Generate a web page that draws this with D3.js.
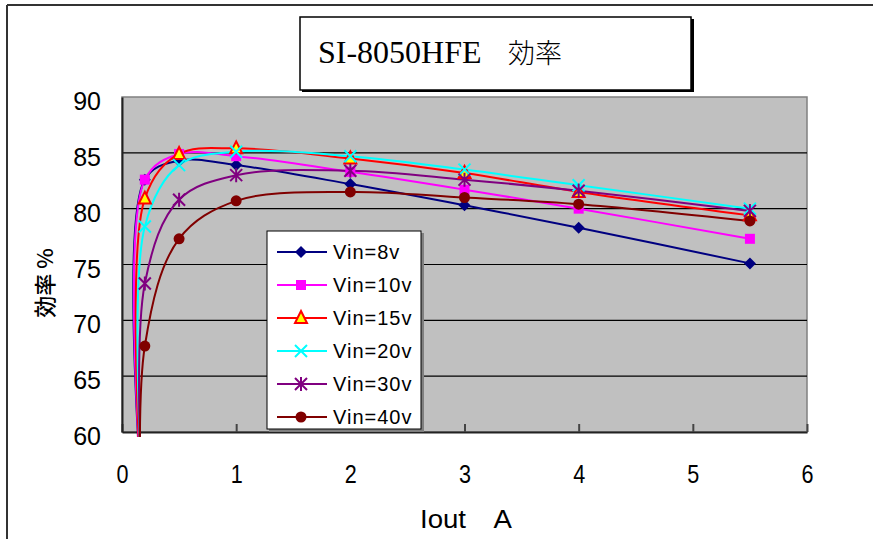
<!DOCTYPE html>
<html><head><meta charset="utf-8">
<script src="https://cdn.jsdelivr.net/npm/d3@7"></script>
<style>body{margin:0;background:#fff}svg{display:block}</style>
</head><body>
<script>
const iout = [0.19, 0.2, 0.5, 1.0, 2.0, 3.0, 4.0, 5.5];
const vin8  = [52, 82.6, 84.3, 83.9, 82.2, 80.3, 78.3, 75.1];
const vin10 = [52, 82.6, 84.9, 84.7, 83.3, 81.7, 80.0, 77.3];
const vin15 = [51, 80.9, 84.9, 85.4, 84.5, 83.2, 81.5, 79.4];
const vin20 = [52, 78.4, 83.9, 85.1, 84.7, 83.5, 82.1, 80.0];
const vin30 = [50, 73.3, 80.8, 83.0, 83.4, 82.6, 81.6, 79.8];
const vin40 = [45, 67.7, 77.3, 80.7, 81.5, 81.0, 80.4, 78.9];
const seriesNames = ["Vin=8v","Vin=10v","Vin=15v","Vin=20v","Vin=30v","Vin=40v"];
const xTicks = [0,1,2,3,4,5,6];
const yTicks = [60,65,70,75,80,85,90];
const titleText = "SI-8050HFE";
const titleCJK = "効率";
const yTitle = "効率 %";
const xTitle = "Iout　A";

const series = [
  {name: seriesNames[0], values: vin8,  color: "#000080", marker: "diamond"},
  {name: seriesNames[1], values: vin10, color: "#FF00FF", marker: "square"},
  {name: seriesNames[2], values: vin15, color: "#FF0000", marker: "triangle"},
  {name: seriesNames[3], values: vin20, color: "#00FFFF", marker: "x"},
  {name: seriesNames[4], values: vin30, color: "#800080", marker: "star"},
  {name: seriesNames[5], values: vin40, color: "#800000", marker: "circle"}
];

const W = 873, H = 539;
const svg = d3.select("body").append("svg").attr("width", W).attr("height", H);

// outer frame
svg.append("line").attr("x1",7).attr("x2",W).attr("y1",5).attr("y2",5).attr("stroke","#333").attr("stroke-width",2);
svg.append("line").attr("x1",7).attr("x2",7).attr("y1",5).attr("y2",H).attr("stroke","#333").attr("stroke-width",2);

const L = 122, R = 807, T = 97, B = 432;
const x = d3.scaleLinear().domain([0,6]).range([L,R]);
const y = d3.scaleLinear().domain([60,90]).range([B,T]);

// plot area
svg.append("rect").attr("x",L).attr("y",T).attr("width",R-L).attr("height",B-T)
  .attr("fill","#C0C0C0").attr("stroke","#808080").attr("stroke-width",1.5);

// gridlines
svg.append("g").selectAll("line").data(yTicks.filter(d=>d>60 && d<90)).join("line")
  .attr("x1",L).attr("x2",R).attr("y1",d=>y(d)).attr("y2",d=>y(d))
  .attr("stroke","#000").attr("stroke-width",1.2);

// axes
const xAxis = d3.axisBottom(x).tickValues(xTicks).tickSizeInner(-8).tickSizeOuter(0).tickFormat(d3.format("d")).tickPadding(33);
const gx = svg.append("g").attr("transform",`translate(0,${B})`).call(xAxis);
gx.select(".domain").attr("stroke","#222").attr("stroke-width",2);
gx.selectAll(".tick line").attr("stroke","#444").attr("stroke-width",2);
gx.selectAll("text").attr("font-family","'Liberation Sans',Arial,sans-serif")
  .attr("font-size",25).attr("fill","#000").attr("textLength",12).attr("lengthAdjust","spacingAndGlyphs");

const yAxis = d3.axisLeft(y).tickValues(yTicks).tickSize(0).tickPadding(21).tickFormat(d3.format("d"));
const gy = svg.append("g").attr("transform",`translate(${L},0)`).call(yAxis);
gy.select(".domain").attr("stroke","#222").attr("stroke-width",2);
gy.selectAll("text").attr("font-family","'Liberation Sans',Arial,sans-serif")
  .attr("font-size",25).attr("fill","#000").attr("dy","0.5em");

// clip
svg.append("clipPath").attr("id","clip").append("rect").attr("x",L).attr("y",T).attr("width",R-L).attr("height",B-T+5);

const line = d3.line().x((d,i)=>x(iout[i])).y(d=>y(d)).curve(d3.curveCatmullRom.alpha(0.5));

const gLines = svg.append("g").attr("clip-path","url(#clip)");
series.forEach(s=>{
  gLines.append("path").attr("d", line(s.values)).attr("fill","none")
    .attr("stroke", s.color).attr("stroke-width",2);
});

function drawMarker(g, type, color, cx, cy){
  const m = g.append("g").attr("transform",`translate(${cx},${cy})`);
  if(type==="diamond"){
    m.append("path").attr("d","M0,-6L6,0L0,6L-6,0Z").attr("fill",color);
  } else if(type==="square"){
    m.append("rect").attr("x",-5).attr("y",-5).attr("width",10).attr("height",10).attr("fill",color);
  } else if(type==="triangle"){
    m.append("path").attr("d","M0,-7L6,5L-6,5Z").attr("fill","#FFFF00").attr("stroke",color).attr("stroke-width",2);
  } else if(type==="x"){
    m.append("path").attr("d","M-6,-6L6,6M-6,6L6,-6").attr("stroke",color).attr("stroke-width",2);
  } else if(type==="star"){
    m.append("path").attr("d","M-6,-6L6,6M-6,6L6,-6M0,-7L0,7").attr("stroke",color).attr("stroke-width",2);
  } else if(type==="circle"){
    m.append("circle").attr("r",5.5).attr("fill",color);
  }
}

const gMarks = svg.append("g").attr("clip-path","url(#clip)");
series.forEach(s=>{
  s.values.forEach((v,i)=>{
    if(v>=60) drawMarker(gMarks, s.marker, s.color, x(iout[i]), y(v));
  });
});

// legend
const lg = svg.append("g");
lg.append("rect").attr("x",269).attr("y",233).attr("width",155).attr("height",199).attr("fill","#808080");
lg.append("rect").attr("x",267).attr("y",231).attr("width",154).attr("height",198).attr("fill","#fff").attr("stroke","#000").attr("stroke-width",1);
series.forEach((s,i)=>{
  const yy = 252 + i*33;
  lg.append("line").attr("x1",277).attr("x2",327).attr("y1",yy).attr("y2",yy).attr("stroke",s.color).attr("stroke-width",2);
  drawMarker(lg, s.marker, s.color, 301, yy);
  lg.append("text").attr("x",333).attr("y",yy+7).text(s.name)
    .attr("font-family","'Liberation Sans',Arial,sans-serif").attr("font-size",20).attr("letter-spacing",1).attr("fill","#000");
});

// title box
svg.append("rect").attr("x",302).attr("y",19).attr("width",392).attr("height",73).attr("fill","#000");
svg.append("rect").attr("x",300).attr("y",17).attr("width",391).attr("height",73).attr("fill","#fff").attr("stroke","#000").attr("stroke-width",1.5);
const tt = svg.append("text").attr("x",318).attr("y",63).attr("fill","#000");
tt.append("tspan").text(titleText).attr("font-family","'Liberation Serif','DejaVu Serif',serif").attr("font-size",32);
tt.append("tspan").attr("x",508).text(titleCJK).attr("font-family","'Noto Sans CJK JP',sans-serif").attr("font-size",27).attr("font-weight",300);

// axis titles
svg.append("text").attr("transform","translate(53,283) rotate(-90)").attr("text-anchor","middle")
  .attr("font-family","'Noto Sans CJK JP',sans-serif").attr("font-size",22).attr("font-weight",500).attr("fill","#000").text(yTitle);
svg.append("text").attr("x",466).attr("y",528).attr("text-anchor","middle")
  .attr("font-family","'Liberation Sans',Arial,'Noto Sans CJK JP',sans-serif").attr("font-size",25)
  .attr("textLength",92).attr("lengthAdjust","spacingAndGlyphs").attr("fill","#000").text(xTitle);
</script>
</body></html>
